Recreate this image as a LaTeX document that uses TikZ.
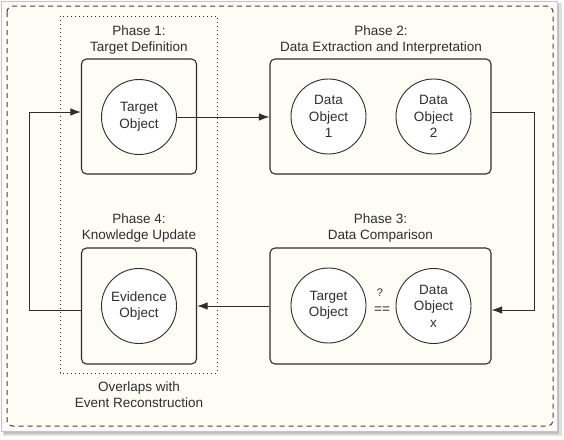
\documentclass[tikz,border=0pt]{standalone}
\usepackage{fontspec}
\setmainfont{Liberation Sans}
\usetikzlibrary{arrows.meta,calc}
\definecolor{cream}{RGB}{253,253,245}
\definecolor{linec}{RGB}{45,45,45}
\definecolor{pinkb}{RGB}{215,185,205}
\tikzset{
  phasebox/.style={draw=linec,line width=1.1pt,rounded corners=5pt,fill=cream},
  obj/.style={circle,draw=linec,line width=0.9pt,fill=white,minimum size=75pt,inner sep=0pt,align=center,
    text=black!82,font=\fontsize{13.5pt}{16.5pt}\selectfont},
  lbl/.style={align=center,text=black!82,font=\fontsize{13.5pt}{16pt}\selectfont},
  conn/.style={draw=linec,line width=1pt,-{Latex[length=10.5pt,width=7.5pt]}},
}
\begin{document}
\begin{tikzpicture}[x=1pt,y=-1pt]
\useasboundingbox (0,0) rectangle (564,439);
\fill[white] (0,0) rectangle (564,439);
% card with shadow
\fill[black!12] (3,3) rectangle (562,436);
\fill[black!25] (4,4) rectangle (559,433.5);
\filldraw[fill=cream,draw=pinkb,line width=0.8pt] (1,1) rectangle (557,431);
% outer dashed frame
\draw[linec!90,line width=1pt,dash pattern=on 5pt off 4pt,rounded corners=6pt] (7,6) rectangle (553,426);
% dotted overlap frame
\draw[linec,line width=1pt,dash pattern=on 1pt off 3pt] (60,16) rectangle (217,373);
% phase boxes
\node[phasebox,minimum width=115pt,minimum height=115pt] (p1) at (139,116.5) {};
\node[phasebox,minimum width=221pt,minimum height=115pt] (p2) at (380.5,116.5) {};
\node[phasebox,minimum width=221pt,minimum height=116pt] (p3) at (380.5,306) {};
\node[phasebox,minimum width=115pt,minimum height=116pt] (p4) at (139,306) {};
% labels
\node[lbl] (l1) at (139,40) {Phase 1:\\Target Definition};
\node[lbl] (l2) at (381,40) {Phase 2:\\Data Extraction and Interpretation};
\node[lbl] (l3) at (380.5,228.5) {Phase 3:\\Data Comparison};
\node[lbl] (l4) at (139,228.5) {Phase 4:\\Knowledge Update};
\node[lbl] (l5) at (139,395) {Overlaps with\\Event Reconstruction};
% objects
\node[obj] (tgt) at (139,117) {Target\\Object};
\node[obj] (d1) at (328.5,116.5) {Data\\Object\\1};
\node[obj] (d2) at (433.5,116.5) {Data\\Object\\2};
\node[obj] (t3) at (328.5,305.5) {Target\\Object};
\node[obj] (dx) at (433.5,306) {Data\\Object\\x};
\node[obj] (ev) at (139,306) {Evidence\\Object};
\node[lbl,font=\fontsize{11pt}{13pt}\selectfont] (q) at (380,293) {?};
\node[lbl] (eq) at (382,310) {==};
% connectors
\coordinate (a2) at (534,112);
\coordinate (a3) at (534,310);
\coordinate (a4) at (29,310);
\coordinate (a1) at (29,112);
\draw[conn] (tgt.east) -- (tgt.east -| p2.west);
\draw[conn] (p2.east |- a2) -- (a2) -- (a3) -- (p3.east |- a3);
\draw[conn] (p3.west) -- (p4.east);
\draw[conn] (p4.west |- a4) -- (a4) -- (a1) -- (p1.west |- a1);
\end{tikzpicture}
\end{document}
